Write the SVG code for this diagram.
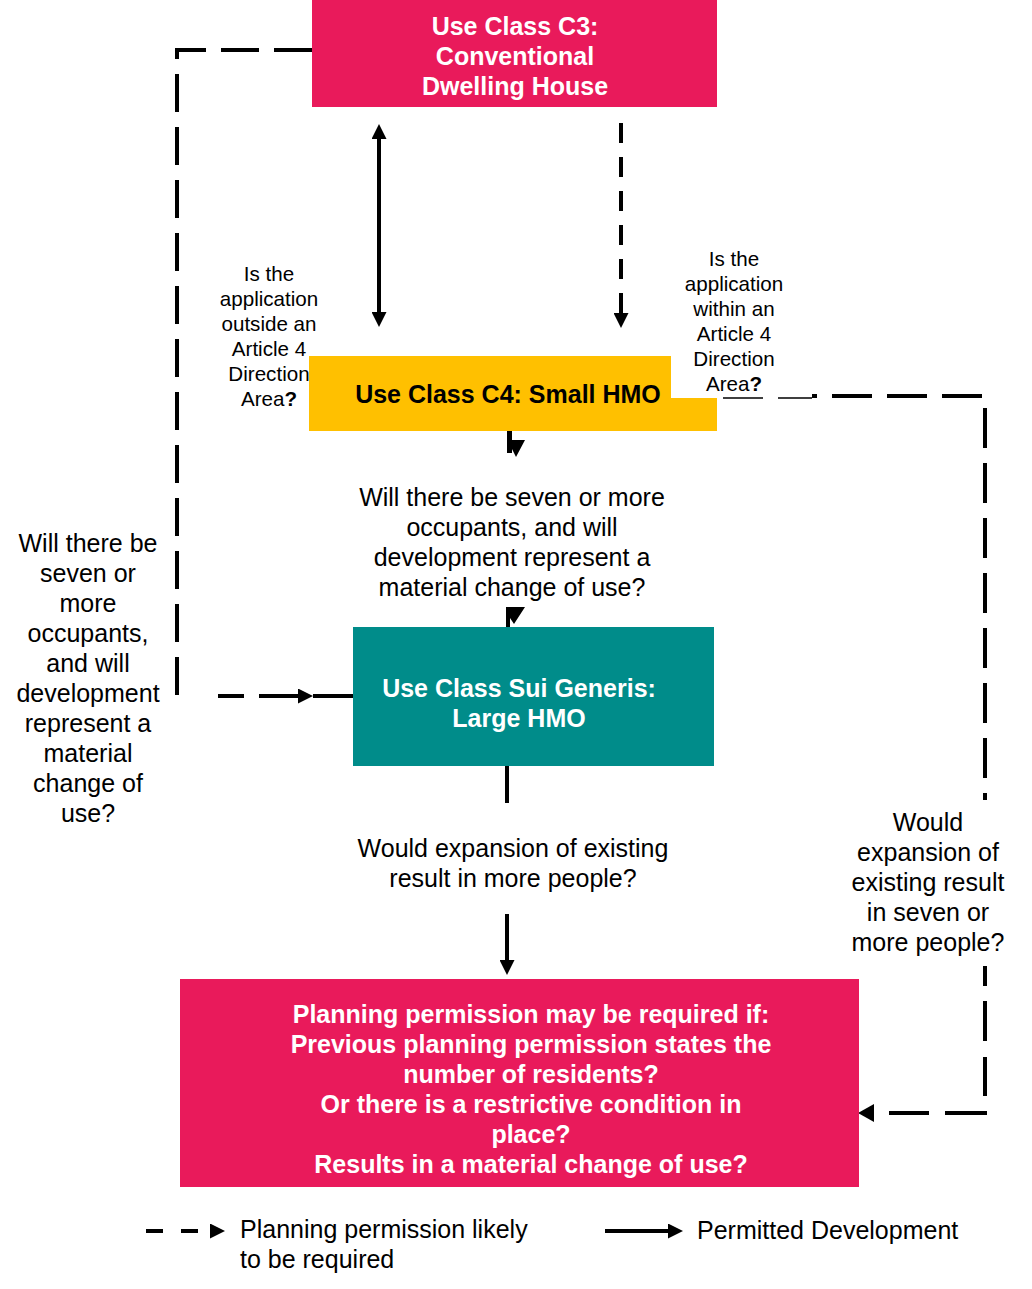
<svg xmlns="http://www.w3.org/2000/svg" width="1032" height="1289" viewBox="0 0 1032 1289">
<style>
  .t { font-family: "Liberation Sans", Arial, sans-serif; fill: #000; }
  .b { font-weight: bold; }
  .w { fill: #fff; }
  .m { text-anchor: middle; }
  .f24 { font-size: 25px; }
  .f20 { font-size: 20.6px; }
  .ln { fill: none; stroke: #000; stroke-width: 4; }
  .dash { stroke-dasharray: 38 15; }
</style>
<defs>
  <marker id="ah" viewBox="0 0 10 10" refX="0" refY="5" markerWidth="15" markerHeight="15" markerUnits="userSpaceOnUse" orient="auto-start-reverse">
    <path d="M0,0 L10,5 L0,10 z" fill="#000"/>
  </marker>
</defs>
<rect width="1032" height="1289" fill="#fff"/>

<g id="connectors">
  <path class="ln" d="M379,139 V312" marker-start="url(#ah)" marker-end="url(#ah)"/>
  <path class="ln" d="M621,123 V313" stroke-dasharray="20 14" marker-end="url(#ah)"/>
  <path class="ln dash" d="M312,50 H177 V695"/>
  <path class="ln" d="M218,696 H244 M259,696 H298" marker-end="url(#ah)"/>
  <path class="ln" d="M313,696 H353"/>
  <path fill="none" stroke="#000" stroke-width="1.5" d="M723,398 H763 M778,398 H812"/>
  <path class="ln" d="M812,396 H985 V800" stroke-dasharray="40 15" stroke-dashoffset="35"/>
  <path class="ln" d="M985,966 V986 M985,1001 V1041 M985,1057 V1096 M985,1111 V1113 H945 M929,1113 H889"/>
  <path d="M874,1104 L858,1113 L874,1122 z" fill="#000"/>
  <path d="M507,431 H512 V440 H525 L516,457 L512,449 V453 H507 z" fill="#000"/>
  <path d="M506,607 H525 L514,624 L510,618 V627 H506 z" fill="#000"/>
  <path class="ln" stroke-width="5" d="M507,766 V803"/>
  <path class="ln" d="M507,914 V960" marker-end="url(#ah)"/>
</g>

<g id="c3">
  <rect x="312" y="0" width="405" height="107" fill="#E91A5B"/>
  <text class="t b w m f24" x="515" y="35">Use Class C3:</text>
  <text class="t b w m f24" x="515" y="65">Conventional</text>
  <text class="t b w m f24" x="515" y="95">Dwelling House</text>
</g>

<g id="c4">
  <polygon points="309,356 671,356 671,398 717,398 717,431 309,431" fill="#FFC000"/>
  <text class="t b m f24" x="508" y="403">Use Class C4: Small HMO</text>
</g>

<g id="sui">
  <rect x="353" y="627" width="361" height="139" fill="#008C8A"/>
  <text class="t b w m f24" x="519" y="697">Use Class Sui Generis:</text>
  <text class="t b w m f24" x="519" y="727">Large HMO</text>
</g>

<g id="planning">
  <rect x="180" y="979" width="679" height="208" fill="#E91A5B"/>
  <text class="t b w m f24" x="531" y="1023">Planning permission may be required if:</text>
  <text class="t b w m f24" x="531" y="1053">Previous planning permission states the</text>
  <text class="t b w m f24" x="531" y="1083">number of residents?</text>
  <text class="t b w m f24" x="531" y="1113">Or there is a restrictive condition in</text>
  <text class="t b w m f24" x="531" y="1143">place?</text>
  <text class="t b w m f24" x="531" y="1173">Results in a material change of use?</text>
</g>

<g id="label-outside">
  <text class="t m f20" x="269" y="281">Is the</text>
  <text class="t m f20" x="269" y="306">application</text>
  <text class="t m f20" x="269" y="331">outside an</text>
  <text class="t m f20" x="269" y="356">Article 4</text>
  <text class="t m f20" x="269" y="381">Direction</text>
  <text class="t m f20" x="269" y="406">Area<tspan class="b">?</tspan></text>
</g>

<g id="label-within">
  <text class="t m f20" x="734" y="266">Is the</text>
  <text class="t m f20" x="734" y="291">application</text>
  <text class="t m f20" x="734" y="316">within an</text>
  <text class="t m f20" x="734" y="341">Article 4</text>
  <text class="t m f20" x="734" y="366">Direction</text>
  <text class="t m f20" x="734" y="391">Area<tspan class="b">?</tspan></text>
</g>

<g id="label-seven-mid">
  <text class="t m f24" x="512" y="506">Will there be seven or more</text>
  <text class="t m f24" x="512" y="536">occupants, and will</text>
  <text class="t m f24" x="512" y="566">development represent a</text>
  <text class="t m f24" x="512" y="596">material change of use?</text>
</g>

<g id="label-seven-left">
  <text class="t m f24" x="88" y="552">Will there be</text>
  <text class="t m f24" x="88" y="582">seven or</text>
  <text class="t m f24" x="88" y="612">more</text>
  <text class="t m f24" x="88" y="642">occupants,</text>
  <text class="t m f24" x="88" y="672">and will</text>
  <text class="t m f24" x="88" y="702">development</text>
  <text class="t m f24" x="88" y="732">represent a</text>
  <text class="t m f24" x="88" y="762">material</text>
  <text class="t m f24" x="88" y="792">change of</text>
  <text class="t m f24" x="88" y="822">use?</text>
</g>

<g id="label-expansion">
  <text class="t m f24" x="513" y="857">Would expansion of existing</text>
  <text class="t m f24" x="513" y="887">result in more people?</text>
</g>

<g id="label-expansion-right">
  <text class="t m f24" x="928" y="831">Would</text>
  <text class="t m f24" x="928" y="861">expansion of</text>
  <text class="t m f24" x="928" y="891">existing result</text>
  <text class="t m f24" x="928" y="921">in seven or</text>
  <text class="t m f24" x="928" y="951">more people?</text>
</g>

<g id="legend">
  <path class="ln" d="M146,1231 H210" stroke-dasharray="17 18 17 12" marker-end="url(#ah)"/>
  <text class="t f24" x="240" y="1238">Planning permission likely</text>
  <text class="t f24" x="240" y="1268">to be required</text>
  <path class="ln" d="M605,1231 H668" marker-end="url(#ah)"/>
  <text class="t f24" x="697" y="1239">Permitted Development</text>
</g>
</svg>
